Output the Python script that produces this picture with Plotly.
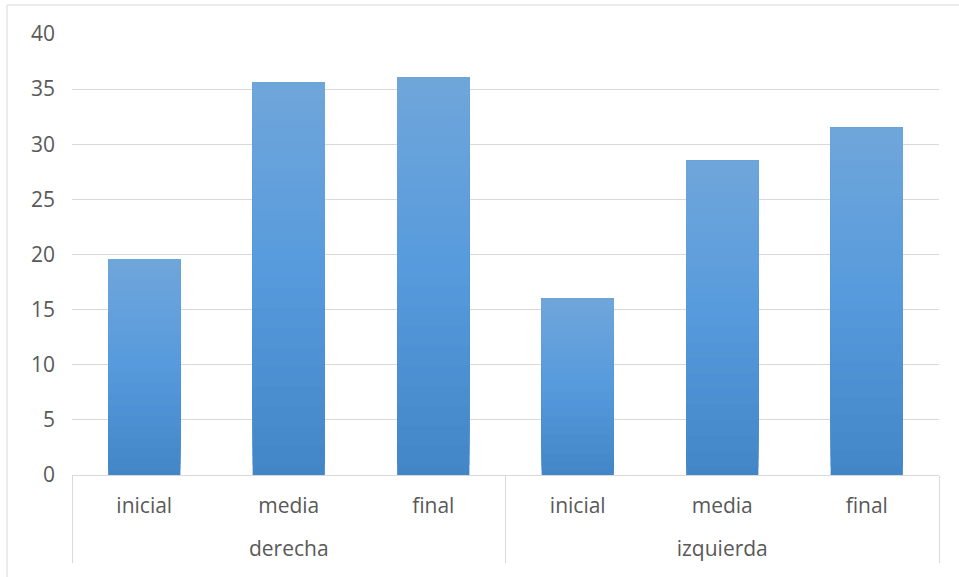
import plotly.graph_objects as go

# Data
groups = ["derecha", "derecha", "derecha", "izquierda", "izquierda", "izquierda"]
stages = ["inicial", "media", "final", "inicial", "media", "final"]
values = [19.6, 35.6, 36.1, 16.0, 28.5, 31.5]
y_ticks = [0, 5, 10, 15, 20, 25, 30, 35, 40]

# Vertical gradient (bottom -> top): overlaid bars, each running from a
# fraction of the value up to the full value, painted bottom layer first.
bottom_rgb = (66, 134, 199)
mid_rgb = (86, 154, 221)
top_rgb = (112, 166, 218)
n_steps = 40


def lerp(a, b, t):
    return tuple(round(a[i] + (b[i] - a[i]) * t) for i in range(3))


def step_color(t):
    if t < 0.5:
        c = lerp(bottom_rgb, mid_rgb, t / 0.5)
    else:
        c = lerp(mid_rgb, top_rgb, (t - 0.5) / 0.5)
    return "rgb(%d,%d,%d)" % c


# Primary labels carry a small spacer line so the group row sits lower
stage_labels = [s + "<br><span style='font-size:14px'> </span>" for s in stages]

fig = go.Figure()
for k in range(n_steps):
    t = (k + 0.5) / n_steps
    fig.add_trace(go.Bar(
        x=[groups, stage_labels],
        y=[v * (1 - k / n_steps) for v in values],
        base=[v * k / n_steps for v in values],
        width=0.5,
        marker=dict(color=step_color(t), line=dict(width=0)),
        hoverinfo="skip",
        showlegend=False,
    ))

font_family = "Open Sans, Liberation Sans, sans-serif"
label_color = "#595959"
grid_color = "#D9D9D9"

fig.update_layout(
    width=959,
    height=577,
    margin=dict(l=72, r=20, t=34, b=102),
    paper_bgcolor="white",
    plot_bgcolor="white",
    barmode="overlay",
    font=dict(family=font_family, size=21, color=label_color),
    xaxis=dict(
        type="multicategory",
        showline=True,
        linecolor=grid_color,
        linewidth=1,
        showgrid=False,
        ticks="",
        ticklabelstandoff=12,
        showdividers=True,
        dividercolor=grid_color,
        dividerwidth=1,
        tickfont=dict(family=font_family, size=21, color=label_color),
    ),
    yaxis=dict(
        range=[0, 40],
        tickvals=y_ticks,
        showgrid=True,
        gridcolor=grid_color,
        gridwidth=1,
        zeroline=False,
        showline=False,
        ticks="",
        ticklabelstandoff=16,
        tickfont=dict(family=font_family, size=21, color=label_color),
    ),
    shapes=[
        dict(type="rect", xref="paper", yref="paper",
             x0=-65 / 867, x1=1 + 40 / 867, y0=-150 / 441, y1=1 + 29 / 441,
             line=dict(color=grid_color, width=1), fillcolor="rgba(0,0,0,0)",
             layer="below"),
    ],
)

fig.write_html("out.html")
